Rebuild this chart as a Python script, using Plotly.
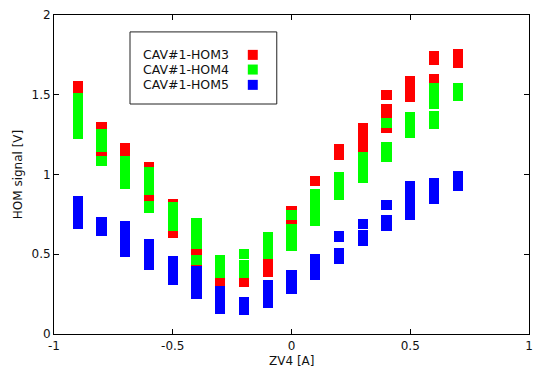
import plotly.graph_objects as go

# ---- data: vertical extents [low, high] of each marker column ----
hom3_x  = [-0.9, -0.8, -0.7, -0.6, -0.5, -0.4, -0.3, -0.2, -0.1, 0.0, 0.0, 0.1, 0.2, 0.3, 0.4, 0.4, 0.5, 0.6, 0.6, 0.7]
hom3_lo = [1.509, 1.118, 1.100, 0.834, 0.604, 0.424, 0.303, 0.293, 0.359, 0.780, 0.690, 0.930, 1.089, 1.143, 1.467, 1.260, 1.456, 1.688, 1.574, 1.668]
hom3_hi = [1.584, 1.331, 1.197, 1.078, 0.846, 0.540, 0.360, 0.351, 0.472, 0.805, 0.712, 0.991, 1.191, 1.323, 1.530, 1.442, 1.620, 1.776, 1.630, 1.787]

hom4_x  = [-0.9, -0.8, -0.8, -0.7, -0.6, -0.6, -0.5, -0.4, -0.4, -0.3, -0.2, -0.2, -0.1, 0.0, 0.0, 0.1, 0.2, 0.3, 0.4, 0.4, 0.5, 0.6, 0.6, 0.7]
hom4_lo = [1.223, 1.143, 1.055, 0.909, 0.871, 0.759, 0.648, 0.533, 0.433, 0.351, 0.470, 0.351, 0.472, 0.715, 0.522, 0.677, 0.842, 0.949, 1.292, 1.078, 1.229, 1.411, 1.285, 1.459]
hom4_hi = [1.509, 1.285, 1.118, 1.118, 1.047, 0.834, 0.830, 0.727, 0.495, 0.495, 0.535, 0.464, 0.640, 0.780, 0.690, 0.909, 1.014, 1.143, 1.354, 1.206, 1.394, 1.574, 1.400, 1.574]

hom5_x  = [-0.9, -0.8, -0.7, -0.6, -0.5, -0.4, -0.3, -0.2, -0.1, 0.0, 0.1, 0.2, 0.2, 0.3, 0.3, 0.4, 0.4, 0.5, 0.6, 0.7]
hom5_lo = [0.658, 0.614, 0.485, 0.401, 0.307, 0.219, 0.127, 0.119, 0.165, 0.253, 0.339, 0.579, 0.439, 0.658, 0.554, 0.777, 0.648, 0.713, 0.815, 0.897]
hom5_hi = [0.863, 0.732, 0.707, 0.596, 0.489, 0.424, 0.303, 0.230, 0.339, 0.401, 0.502, 0.646, 0.541, 0.721, 0.654, 0.840, 0.746, 0.959, 0.978, 1.022]

series_names = ["CAV#1-HOM3", "CAV#1-HOM4", "CAV#1-HOM5"]
series_colors = ["#ff0000", "#00ff00", "#0000ff"]

x_tickvals = [-1, -0.5, 0, 0.5, 1]
x_ticktext = ["-1", "-0.5", "0", "0.5", "1"]
y_tickvals = [0, 0.5, 1, 1.5, 2]
y_ticktext = ["0", "0.5", "1", "1.5", "2"]
x_title = "ZV4 [A]"
y_title = "HOM signal [V]"

FONT = "DejaVu Sans"

fig = go.Figure()
for name, color, xs, lo, hi in zip(series_names, series_colors,
                                   [hom3_x, hom4_x, hom5_x],
                                   [hom3_lo, hom4_lo, hom5_lo],
                                   [hom3_hi, hom4_hi, hom5_hi]):
    fig.add_trace(go.Bar(
        x=xs, y=[h - l for h, l in zip(hi, lo)], base=lo, name=name,
        width=0.044, marker=dict(color=color, line=dict(width=0)),
        showlegend=False, hoverinfo="skip",
    ))

# custom gnuplot-style legend (text left, sample right); plot area 475 x 319 px
shapes = [dict(type="rect", xref="paper", yref="paper",
               x0=0.160, x1=0.469, y0=0.721, y1=0.947,
               line=dict(color="#222", width=1), fillcolor="rgba(0,0,0,0)")]
annotations = []
row_y = [0.875, 0.829, 0.781]
for name, color, yy in zip(series_names, series_colors, row_y):
    annotations.append(dict(xref="paper", yref="paper", x=0.373, y=yy,
                            text=name, showarrow=False, xanchor="right", yanchor="middle",
                            font=dict(family=FONT, size=12.5, color="#111")))
    shapes.append(dict(type="rect", xref="paper", yref="paper",
                       x0=0.408, x1=0.429, y0=yy - 0.0157, y1=yy + 0.0157,
                       line=dict(width=0), fillcolor=color))

# x-axis title placed as text just below the tick labels
annotations.append(dict(xref="paper", yref="paper", x=0.5, y=0, yshift=-27,
                        text=x_title, showarrow=False, xanchor="center", yanchor="middle",
                        font=dict(family=FONT, size=12, color="#111")))

axis_common = dict(showline=True, linecolor="black", linewidth=1, mirror="allticks",
                   ticks="inside", ticklen=5, tickcolor="black", showgrid=False,
                   zeroline=False, automargin=False,
                   tickfont=dict(family=FONT, size=12, color="#111"))

fig.update_layout(
    width=534, height=367,
    margin=dict(l=54, r=5, t=15, b=33),
    paper_bgcolor="white", plot_bgcolor="white",
    barmode="overlay", bargap=0,
    shapes=shapes, annotations=annotations,
    xaxis=dict(range=[-1, 1], tickvals=x_tickvals, ticktext=x_ticktext,
               ticklabelstandoff=1, **axis_common),
    yaxis=dict(range=[0, 2], tickvals=y_tickvals, ticktext=y_ticktext,
               title=dict(text=y_title, standoff=6, font=dict(family=FONT, size=12, color="#111")),
               **axis_common),
)

fig.write_html("out.html", config={"displayModeBar": False},
               post_script="document.body.style.margin='0';document.body.style.overflow='hidden';")
